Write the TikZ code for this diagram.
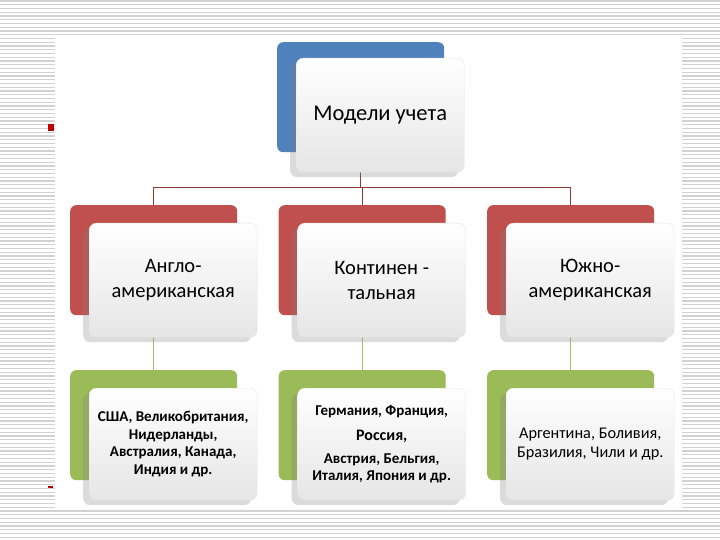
\documentclass[tikz,border=0pt]{standalone}
\usepackage{fontspec}
\setmainfont{Carlito}
\usetikzlibrary{positioning,shadows}
\pgfdeclarelayer{back}
\pgfdeclarelayer{lines}
\pgfsetlayers{back,lines,main}
\definecolor{topblue}{HTML}{4F81BD}
\definecolor{midred}{HTML}{C0504D}
\definecolor{lowgreen}{HTML}{9BBB59}
\definecolor{linkred}{HTML}{8E3B38}
\definecolor{linkgreen}{HTML}{A6BD6A}
\definecolor{stripe}{HTML}{D2D2D2}
\definecolor{bulletred}{HTML}{C00000}
\newcommand\regtext{\fontsize{16.3}{19}\selectfont\mdseries}
\tikzset{
 backbox/.style={rounded corners=6pt,minimum width=167pt,minimum height=110pt,inner sep=0pt,anchor=north west},
 frontbox/.style={rounded corners=7pt,minimum width=168pt,minimum height=114pt,inner sep=0pt,align=center,
   draw=black!10,top color=white,bottom color=black!10,
   drop shadow={shadow xshift=-6pt,shadow yshift=-5pt,opacity=.28}},
 lowtext/.style={font=\fontsize{15}{17.5}\selectfont\bfseries},
}
\begin{document}
\begin{tikzpicture}[x=1pt,y=-1pt]
\useasboundingbox (0,0) rectangle (720,540);
\begin{pgfonlayer}{back}
 \foreach \y in {1,4.75,...,540}
   \draw[stripe,line width=1.3pt] (0,\y) -- (720,\y);
 \fill[white] (55,38) rectangle (682,508);
 \fill[bulletred] (48,124) rectangle (54,131);
 \fill[bulletred] (48,486) rectangle (53,488);
\end{pgfonlayer}
\node[backbox,fill=topblue] (modB) at (277,42) {};
\node[frontbox,below right=16pt and 19pt of modB.north west,font=\fontsize{22.5}{26}\selectfont] (modF) {Модели учета};
\foreach \j [count=\xi] in {Англо-\\американская, Континен -\\тальная, Южно-\\американская}
 {\node[backbox,fill=midred] (contB\xi) at (-138.5+208.5*\xi,205) {};
  \node[frontbox,below right=18pt and 19pt of contB\xi.north west,font=\fontsize{20.5}{25}\selectfont] (contF\xi) {\j};}
\foreach \j [count=\xi] in {{США, Великобритания,\\Нидерланды,\\Австралия, Канада,\\Индия и др.},
   {Германия, Франция,\\[7.5pt]{\fontsize{16}{17}\selectfont Россия,}\\[5.5pt]Австрия, Бельгия,\\Италия, Япония и др.},
   {\regtext Аргентина, Боливия,\\[1.5pt]\regtext Бразилия, Чили и др.}}
 {\node[backbox,fill=lowgreen,minimum height=110pt] (landB\xi) at (-138.5+208.5*\xi,370) {};
  \node[frontbox,lowtext,minimum height=112pt,below right=18pt and 19pt of landB\xi.north west] (landF\xi) {\j};}
\begin{pgfonlayer}{lines}
 \foreach \xi in {1,2,3}
  {\draw[linkred,line width=1.4pt] (modB.south) -- ++(0,35) -| (contB\xi.north);
   \draw[linkgreen,line width=1.2pt] (contB\xi.south) -- (landB\xi.north);}
\end{pgfonlayer}
\end{tikzpicture}
\end{document}
